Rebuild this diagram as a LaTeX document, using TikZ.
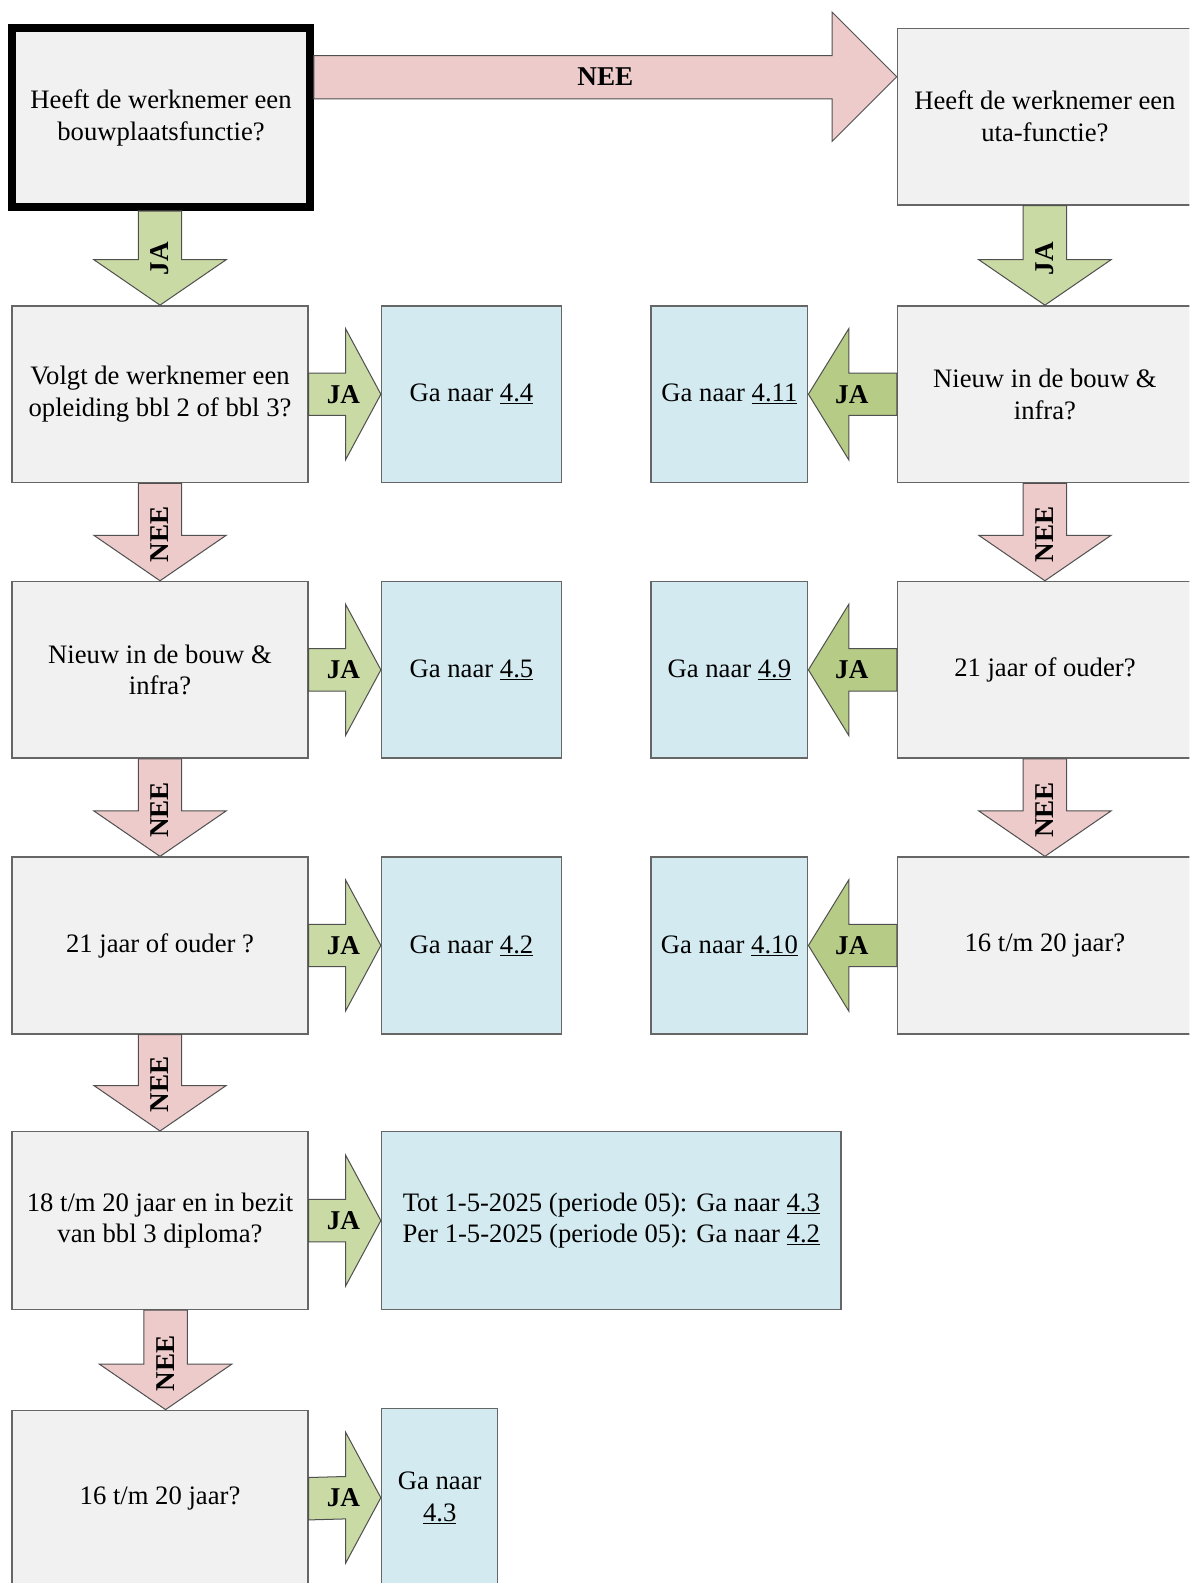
\documentclass[tikz,border=0pt]{standalone}
\usepackage{fontspec}
\setmainfont{Liberation Serif}
\usetikzlibrary{calc}
\definecolor{boxgray}{HTML}{F1F1F1}
\definecolor{boxline}{HTML}{666666}
\definecolor{goblue}{HTML}{D3EAF0}
\definecolor{jagreen}{HTML}{C9DAA4}
\definecolor{jagreendk}{HTML}{B5CB86}
\definecolor{neepink}{HTML}{ECCBCA}
\definecolor{arrline}{HTML}{505050}
\newcommand\bxfont{\fontsize{26.5}{31.5}\selectfont}
\newcommand\lbfont{\fontsize{27}{30}\selectfont\bfseries}
\tikzset{
 qbox/.style={draw=boxline, line width=1.5bp, fill=boxgray, align=center, inner sep=0pt, font=\bxfont},
 gbox/.style={qbox, fill=goblue},
 arr/.style={draw=arrline, line width=1bp, line join=miter},
 lbl/.style={font=\lbfont, inner sep=0pt},
}
% vertical (down) arrow from #1 to #2, fill #3, label #4, x-shift #5
\newcommand\varr[5]{%
 \path[arr, fill=#3] ($(#1.south -| #2.north)+(#5-21.5,0)$) -- ($(#2.north)+(#5-21.5,-45)$) -- ($(#2.north)+(#5-65.5,-45)$) -- ($(#2.north)+(#5,0)$) -- ($(#2.north)+(#5+65.5,-45)$) -- ($(#2.north)+(#5+21.5,-45)$) -- ($(#1.south -| #2.north)+(#5+21.5,0)$) -- cycle;
 \node[lbl, rotate=90] at ($(#2.north)+(#5,-46)$) {#4};}
% right-pointing arrow from #1 to #2
\newcommand\rarr[4]{%
 \path[arr, fill=#3] ($(#1.east)+(0,-21)$) -- ($(#2.west)+(-35,-21)$) -- ($(#2.west)+(-35,-65)$) -- (#2.west) -- ($(#2.west)+(-35,65)$) -- ($(#2.west)+(-35,21)$) -- ($(#1.east)+(0,21)$) -- cycle;
 \node[lbl] at ($(#2.west)+(-37,0)$) {#4};}
% left-pointing arrow from #1 to #2
\newcommand\larr[4]{%
 \path[arr, fill=#3] ($(#1.west)+(0,-21)$) -- ($(#2.east)+(40,-21)$) -- ($(#2.east)+(40,-65)$) -- (#2.east) -- ($(#2.east)+(40,65)$) -- ($(#2.east)+(40,21)$) -- ($(#1.west)+(0,21)$) -- cycle;
 \node[lbl] at ($(#2.east)+(43,0)$) {#4};}
\begin{document}
\begin{tikzpicture}[x=1bp, y=-1bp]
\clip (0,0) rectangle (1178,1568);
\fill[white] (0,0) rectangle (1178,1568);
% question boxes, left column
\node[qbox, draw=black, line width=8bp, minimum width=295bp, minimum height=177bp] (b1) at (159.5,116.5) {Heeft de werknemer een\\bouwplaatsfunctie?};
\node[qbox, minimum width=293bp, minimum height=175bp] (l1) at (158.5,390.5) {Volgt de werknemer een\\opleiding bbl 2 of bbl 3?};
\node[qbox, minimum width=293bp, minimum height=175bp] (l2) at (158.5,663.5) {Nieuw in de bouw \&\\infra?};
\node[qbox, minimum width=293bp, minimum height=175bp] (l3) at (158.5,936.5) {21 jaar of ouder ?};
\node[qbox, minimum width=293bp, minimum height=176bp] (l4) at (158.5,1209) {18 t/m 20 jaar en in bezit\\van bbl 3 diploma?};
\node[qbox, minimum width=293bp, minimum height=175bp] (l5) at (158.5,1484.5) {16 t/m 20 jaar?};
% answer boxes, left
\node[gbox, minimum width=178bp, minimum height=175bp] (g1) at (467,390.5) {Ga naar \underline{4.4}};
\node[gbox, minimum width=178bp, minimum height=175bp] (g2) at (467,663.5) {Ga naar \underline{4.5}};
\node[gbox, minimum width=178bp, minimum height=175bp] (g3) at (467,936.5) {Ga naar \underline{4.2}};
\node[gbox, minimum width=455bp, minimum height=176bp] (g4) at (605.5,1209) {Tot 1-5-2025 (periode 05): Ga naar \underline{4.3}\\Per 1-5-2025 (periode 05): Ga naar \underline{4.2}};
\node[gbox, minimum width=115bp, minimum height=177bp] (g5) at (435.5,1483.5) {Ga naar\\\underline{4.3}};
% right column
\node[qbox, minimum width=292bp, minimum height=175bp] (ut) at (1035,115.5) {Heeft de werknemer een\\uta-functie?};
\node[qbox, minimum width=292bp, minimum height=175bp] (r1) at (1035,390.5) {Nieuw in de bouw \&\\infra?};
\node[qbox, minimum width=292bp, minimum height=175bp] (r2) at (1035,663.5) {21 jaar of ouder?};
\node[qbox, minimum width=292bp, minimum height=175bp] (r3) at (1035,936.5) {16 t/m 20 jaar?};
\node[gbox, minimum width=155bp, minimum height=175bp] (h1) at (722.5,390.5) {Ga naar \underline{4.11}};
\node[gbox, minimum width=155bp, minimum height=175bp] (h2) at (722.5,663.5) {Ga naar \underline{4.9}};
\node[gbox, minimum width=155bp, minimum height=175bp] (h3) at (722.5,936.5) {Ga naar \underline{4.10}};
% top NEE arrow
\path[arr, fill=neepink] ($(b1.east)+(0,-61.5)$) -- ($(ut.west)+(-64,-60.5)$) -- ($(ut.west)+(-64,-103.5)$) -- ($(ut.west)+(0,-39.5)$) -- ($(ut.west)+(-64,24.5)$) -- ($(ut.west)+(-64,-17.5)$) -- ($(b1.east)+(0,-18.5)$) -- cycle;
\node[lbl] at ($($(b1.east)!0.5!(ut.west)$)+(0,-40)$) {NEE};
% vertical arrows
\varr{b1}{l1}{jagreen}{JA}{0}
\varr{l1}{l2}{neepink}{NEE}{0}
\varr{l2}{l3}{neepink}{NEE}{0}
\varr{l3}{l4}{neepink}{NEE}{0}
\varr{l4}{l5}{neepink}{NEE}{5.5}
\varr{ut}{r1}{jagreen}{JA}{0}
\varr{r1}{r2}{neepink}{NEE}{0}
\varr{r2}{r3}{neepink}{NEE}{0}
% horizontal JA arrows
\rarr{l1}{g1}{jagreen}{JA}
\rarr{l2}{g2}{jagreen}{JA}
\rarr{l3}{g3}{jagreen}{JA}
\rarr{l4}{g4}{jagreen}{JA}
\rarr{l5}{g5}{jagreen}{JA}
\larr{r1}{h1}{jagreendk}{JA}
\larr{r2}{h2}{jagreendk}{JA}
\larr{r3}{h3}{jagreendk}{JA}
\end{tikzpicture}
\end{document}
